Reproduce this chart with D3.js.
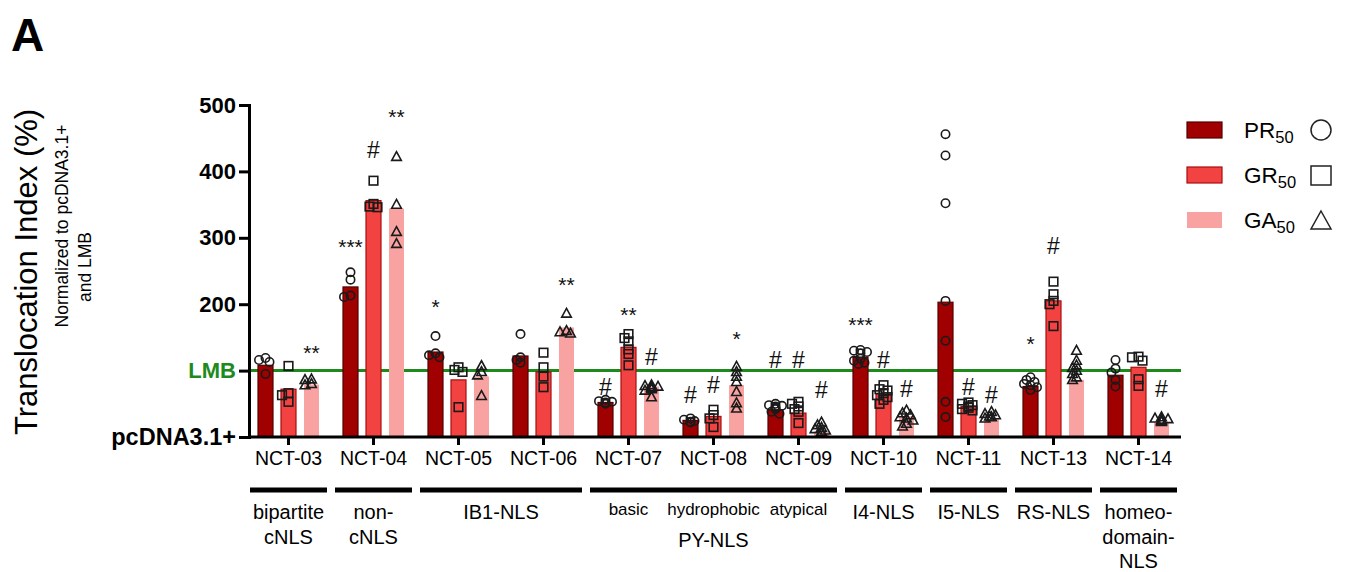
<!DOCTYPE html>
<html>
<head>
<meta charset="utf-8">
<script src="https://cdn.jsdelivr.net/npm/d3@7"></script>
<style>
  html, body { margin: 0; padding: 0; background: #ffffff; }
  svg { display: block; }
  text { font-family: "Liberation Sans", Arial, sans-serif; }
</style>
</head>
<body>
<script>
// ---------------- DATA ----------------
const categories = ["NCT-03","NCT-04","NCT-05","NCT-06","NCT-07","NCT-08","NCT-09","NCT-10","NCT-11","NCT-13","NCT-14"];
const seriesNames = ["PR", "GR", "GA"];
const seriesSub = "50";

const barsPR = [108, 226, 128, 122, 52, 25, 41, 120, 203, 76, 93];
const barsGR = [72, 356, 86, 98, 135, 31, 36, 65, 46, 205, 105];
const barsGA = [79, 344, 91, 165, 76, 78, 8, 31, 27, 86, 22];

const pointsPR = [
  [119, 116, 113, 95],
  [248, 237, 213, 211],
  [152, 126, 123, 120],
  [155, 120, 116, 112],
  [56, 54, 53, 52, 50],
  [28, 26, 24, 23, 22],
  [50, 48, 47, 46, 44, 42, 38, 35],
  [131, 130, 128, 126, 118, 115, 112, 110],
  [456, 424, 352, 205, 145, 53, 30],
  [90, 86, 83, 80, 78, 75, 71],
  [116, 103, 97, 86, 76]
];
const pointsGR = [
  [107, 66, 63, 53],
  [386, 351, 347, 346],
  [105, 101, 98, 45],
  [127, 105, 91, 75],
  [155, 149, 144, 132, 125, 108],
  [41, 33, 28, 15],
  [53, 50, 46, 42, 38, 21],
  [78, 72, 70, 66, 63, 60, 56, 50],
  [52, 50, 48, 46, 44, 42, 40],
  [234, 215, 205, 200, 167],
  [121, 120, 115, 87, 77]
];
const pointsGA = [
  [87, 86, 80, 78],
  [422, 350, 309, 291],
  [107, 98, 93, 62],
  [186, 160, 158, 156],
  [78, 77, 76, 75, 74, 72, 70, 60],
  [106, 98, 91, 83, 68, 51, 43],
  [22, 18, 14, 12, 10, 8, 6],
  [40, 36, 33, 30, 28, 25, 20, 16],
  [38, 35, 33, 31, 30, 28],
  [130, 115, 108, 104, 100, 95, 90, 86],
  [30, 28, 27, 26, 25, 24, 23]
];

// significance annotations
const annotCat    = ["NCT-03","NCT-04","NCT-04","NCT-04","NCT-05","NCT-06","NCT-07","NCT-07","NCT-07","NCT-08","NCT-08","NCT-08","NCT-09","NCT-09","NCT-09","NCT-10","NCT-10","NCT-10","NCT-11","NCT-11","NCT-13","NCT-13","NCT-14"];
const annotSeries = ["GA","PR","GR","GA","PR","GA","PR","GR","GA","PR","GR","GA","PR","GR","GA","PR","GR","GA","GR","GA","PR","GR","GA"];
const annotLabel  = ["**","***","#","**","*","**","#","**","#","#","#","*","#","#","#","***","#","#","#","#","*","#","#"];
const annotValue  = [127, 287, 432, 482, 197, 229, 76, 184, 121, 63, 78, 149, 116, 116, 71, 170, 116, 73, 76, 63, 141, 287, 72];

// y tick labels
const yTickValues = [0, 100, 200, 300, 400, 500];
const yTickLabels = ["pcDNA3.1+", "LMB", "200", "300", "400", "500"];
const lmbValue = 100;

// category groups (second level labels)
const groupFirst = ["NCT-03","NCT-04","NCT-05","NCT-07","NCT-10","NCT-11","NCT-13","NCT-14"];
const groupLast  = ["NCT-03","NCT-04","NCT-06","NCT-09","NCT-10","NCT-11","NCT-13","NCT-14"];
const groupLines = [["bipartite","cNLS"],["non-","cNLS"],["IB1-NLS"],["PY-NLS"],["I4-NLS"],["I5-NLS"],["RS-NLS"],["homeo-","domain-","NLS"]];
const pySubCats   = ["NCT-07","NCT-08","NCT-09"];
const pySubLabels = ["basic","hydrophobic","atypical"];

// ---------------- STYLE ----------------
const fills   = {PR: "#a00000", GR: "#f24242", GA: "#f9a2a2"};
const strokes = {PR: "#550000", GR: "#a80e0e", GA: "none"};
const symbolOf = {PR: "circle", GR: "square", GA: "triangle"};
const green = "#1e8a1e";

const W = 1347, H = 572;
const svg = d3.select("body").append("svg").attr("width", W).attr("height", H);

const x = d3.scaleBand().domain(categories).range([246, 1181]).paddingInner(0).paddingOuter(0);
const xs = d3.scaleBand().domain(seriesNames).range([-34.5, 34.5]);
const y = d3.scaleLinear().domain([0, 500]).range([437, 105]);
const axisLeftX = 249, axisRightX = 1181;
const barW = 15;

const barData = {PR: barsPR, GR: barsGR, GA: barsGA};
const ptData  = {PR: pointsPR, GR: pointsGR, GA: pointsGA};

// panel letter
svg.append("text").attr("x", 11).attr("y", 51).attr("font-size", 46).attr("font-weight", "bold").text("A");

// LMB line (behind bars)
svg.append("line")
  .attr("x1", axisLeftX).attr("x2", axisRightX)
  .attr("y1", y(lmbValue)).attr("y2", y(lmbValue))
  .attr("stroke", green).attr("stroke-width", 3);

// bars
const cx = (cat, s) => x(cat) + x.bandwidth() / 2 + xs(s) + xs.bandwidth() / 2;
seriesNames.forEach(s => {
  svg.append("g").selectAll("rect")
    .data(categories.map((c, i) => ({c, v: barData[s][i]})))
    .join("rect")
    .attr("x", d => cx(d.c, s) - barW / 2)
    .attr("width", barW)
    .attr("y", d => y(d.v))
    .attr("height", d => y(0) - y(d.v))
    .attr("fill", fills[s])
    .attr("stroke", strokes[s])
    .attr("stroke-width", strokes[s] === "none" ? 0 : 1.2);
});

// points: place at centre, shift sideways only when they would collide
const offsets = [0, -4, 4, -6.5, 6.5, -2, 2];
seriesNames.forEach(s => {
  const g = svg.append("g").attr("fill", "none").attr("stroke", "#1a1a1a").attr("stroke-width", 1.6);
  categories.forEach((c, i) => {
    const placed = [];
    ptData[s][i].forEach(v => {
      const py = y(v);
      let px = cx(c, s);
      for (const o of offsets) {
        const cand = cx(c, s) + o;
        if (placed.every(p => Math.hypot(p[0] - cand, p[1] - py) >= 4.5)) { px = cand; break; }
      }
      placed.push([px, py]);
      if (symbolOf[s] === "circle") {
        g.append("circle").attr("cx", px).attr("cy", py).attr("r", 4.2);
      } else if (symbolOf[s] === "square") {
        g.append("rect").attr("x", px - 4.3).attr("y", py - 4.3).attr("width", 8.6).attr("height", 8.6);
      } else {
        g.append("path").attr("d", `M${px},${py - 5.2}L${px + 4.8},${py + 3.6}L${px - 4.8},${py + 3.6}Z`);
      }
    });
  });
});

// annotations
svg.append("g").selectAll("text")
  .data(annotLabel.map((t, i) => ({t, c: annotCat[i], s: annotSeries[i], v: annotValue[i]})))
  .join("text")
  .attr("x", d => cx(d.c, d.s))
  .attr("y", d => y(d.v))
  .attr("text-anchor", "middle")
  .attr("dominant-baseline", "central")
  .attr("font-size", d => d.t === "#" ? 23 : 21)
  .attr("fill", "#111")
  .text(d => d.t);

// Y axis
const yAxis = d3.axisLeft(y).tickValues(yTickValues).tickSize(10).tickPadding(3)
  .tickFormat((d, i) => yTickLabels[i]);
const gy = svg.append("g").attr("transform", `translate(${axisLeftX},0)`).call(yAxis);
gy.select(".domain").attr("stroke", "#000").attr("stroke-width", 3);
gy.selectAll(".tick line").attr("stroke", "#000").attr("stroke-width", 3);
gy.selectAll(".tick text")
  .attr("font-size", 22).attr("font-weight", "bold")
  .attr("font-family", "Liberation Sans, Arial, sans-serif")
  .attr("fill", (d) => d === lmbValue ? green : "#000");
gy.selectAll(".tick text").filter(d => d === 0).attr("font-size", 23.5);

// X axis
const xAxis = d3.axisBottom(x).tickSize(8).tickPadding(6);
const gx = svg.append("g").attr("transform", `translate(0,${y(0)})`).call(xAxis);
gx.select(".domain").remove();
gx.append("line").attr("x1", axisLeftX).attr("x2", axisRightX).attr("y1", 0).attr("y2", 0)
  .attr("stroke", "#000").attr("stroke-width", 3);
gx.selectAll(".tick line").attr("stroke", "#000").attr("stroke-width", 3);
gx.selectAll(".tick text").attr("font-size", 19.5).attr("fill", "#000")
  .attr("font-family", "Liberation Sans, Arial, sans-serif");

// Y axis titles
svg.append("text")
  .attr("transform", "translate(37,272) rotate(-90)")
  .attr("text-anchor", "middle").attr("font-size", 31).text("Translocation Index (%)");
svg.append("text")
  .attr("transform", "translate(68,226) rotate(-90)")
  .attr("text-anchor", "middle").attr("font-size", 17.5).text("Normalized to pcDNA3.1+");
svg.append("text")
  .attr("transform", "translate(91,267) rotate(-90)")
  .attr("text-anchor", "middle").attr("font-size", 17.5).text("and LMB");

// group lines & labels
const inset = 4;
groupFirst.forEach((f, i) => {
  const x1 = x(f) + inset, x2 = x(groupLast[i]) + x.bandwidth() - inset;
  svg.append("line").attr("x1", x1).attr("x2", x2).attr("y1", 490).attr("y2", 490)
    .attr("stroke", "#000").attr("stroke-width", 5);
  const lines = groupLines[i];
  const isPY = lines[0] === "PY-NLS";
  lines.forEach((t, k) => {
    svg.append("text").attr("x", (x1 + x2) / 2)
      .attr("y", isPY ? 547 : 519 + k * 24.5)
      .attr("text-anchor", "middle").attr("font-size", 20).text(t);
  });
});
pySubCats.forEach((c, i) => {
  svg.append("text").attr("x", x(c) + x.bandwidth() / 2).attr("y", 515)
    .attr("text-anchor", "middle").attr("font-size", 17).text(pySubLabels[i]);
});

// legend
const legY = [130, 175, 220];
seriesNames.forEach((s, i) => {
  const g = svg.append("g").attr("transform", `translate(1187,${legY[i]})`);
  g.append("rect").attr("x", 0).attr("y", -8).attr("width", 35).attr("height", 16)
    .attr("fill", fills[s]).attr("stroke", strokes[s]).attr("stroke-width", strokes[s] === "none" ? 0 : 1.2);
  const t = g.append("text").attr("x", 57).attr("y", 8).attr("font-size", 22.5);
  t.append("tspan").text(s);
  t.append("tspan").attr("font-size", 16.5).attr("dy", 5).text(seriesSub);
  const sx = 134;
  if (symbolOf[s] === "circle") {
    g.append("circle").attr("cx", sx).attr("cy", 0).attr("r", 10).attr("fill", "none").attr("stroke", "#222").attr("stroke-width", 1.5);
  } else if (symbolOf[s] === "square") {
    g.append("rect").attr("x", sx - 10).attr("y", -9).attr("width", 20).attr("height", 19).attr("fill", "none").attr("stroke", "#222").attr("stroke-width", 1.5);
  } else {
    g.append("path").attr("d", `M${sx},${-9}L${sx + 10},${9}L${sx - 10},${9}Z`).attr("fill", "none").attr("stroke", "#222").attr("stroke-width", 1.5);
  }
});
</script>
</body>
</html>
